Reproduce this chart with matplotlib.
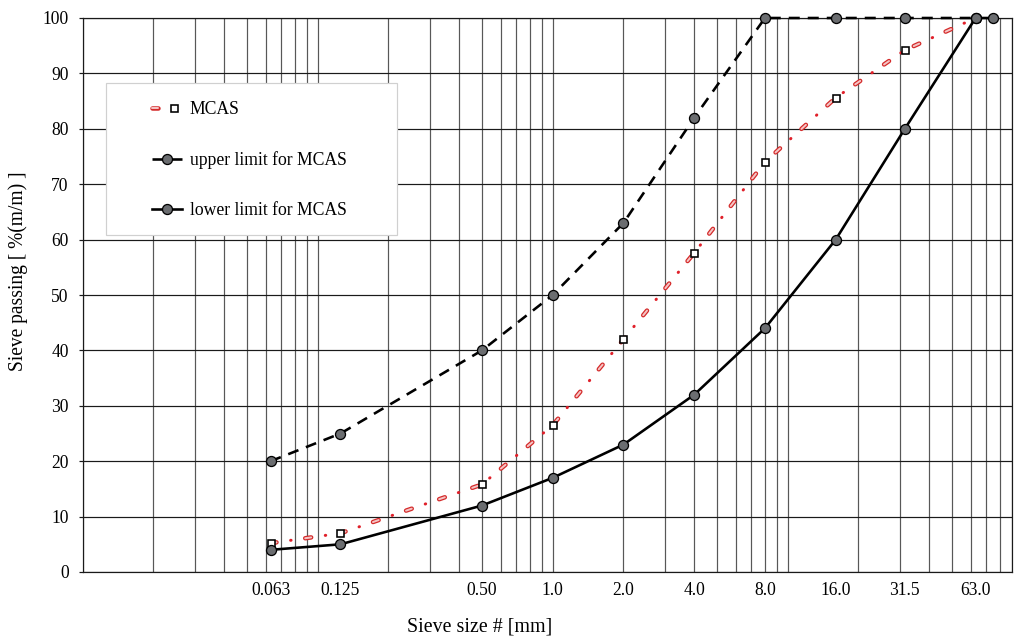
import matplotlib
matplotlib.use('Agg')
import matplotlib.pyplot as plt
import matplotlib.ticker as mticker
import matplotlib.patheffects as pe
from matplotlib.patches import Rectangle
from matplotlib.legend_handler import HandlerTuple

# ---- data ----
sieve_mcas = [0.063, 0.125, 0.5, 1.0, 2.0, 4.0, 8.0, 16.0, 31.5, 63.0]
mcas = [5.2, 7.0, 15.8, 26.5, 42.0, 57.6, 74.0, 85.6, 94.2, 100]
sieve_upper = [0.063, 0.125, 0.5, 1.0, 2.0, 4.0, 8.0, 16.0, 31.5, 63.0, 75.0]
upper = [20, 25, 40, 50, 63, 82, 100, 100, 100, 100, 100]
sieve_lower = [0.063, 0.125, 0.5, 1.0, 2.0, 4.0, 8.0, 16.0, 31.5, 63.0]
lower = [4, 5, 12, 17, 23, 32, 44, 60, 80, 100]
tick_values = [0.063, 0.125, 0.5, 1.0, 2.0, 4.0, 8.0, 16.0, 31.5, 63.0]
tick_labels = ['0.063', '0.125', '0.50', '1.0', '2.0', '4.0', '8.0', '16.0', '31.5', '63.0']
y_ticks = list(range(0, 101, 10))
series_labels = ['MCAS', 'upper limit for MCAS', 'lower limit for MCAS']

plt.rcParams['font.family'] = ['Liberation Serif', 'DejaVu Serif']
plt.rcParams['lines.scale_dashes'] = False

W, H = 1014, 636
fig = plt.figure(figsize=(W / 72, H / 72), dpi=72)
ax = fig.add_axes([82.7 / W, 1 - 572 / H, 929.3 / W, 554 / H])
ax.set_xscale('log')
ax.set_xlim(0.01, 90)
ax.set_ylim(0, 100)

ax.xaxis.set_major_locator(mticker.FixedLocator(tick_values))
ax.xaxis.set_major_formatter(mticker.FixedFormatter(tick_labels))
ax.xaxis.set_minor_locator(mticker.LogLocator(base=10, subs=range(1, 10), numticks=100))
ax.xaxis.set_minor_formatter(mticker.NullFormatter())
ax.xaxis.remove_overlapping_locs = False
ax.set_yticks(y_ticks)

ax.grid(which='minor', axis='x', color='#585858', lw=1.2)
ax.grid(which='major', axis='x', visible=False)
ax.grid(which='major', axis='y', color='#1a1a1a', lw=1.2)
ax.set_axisbelow(True)
ax.tick_params(axis='x', which='both', length=0, pad=10, labelsize=17.5)
ax.tick_params(axis='y', length=4, width=1.2, pad=10, labelsize=17.5, color='#1a1a1a')
for s in ax.spines.values():
    s.set_color('#1a1a1a')
    s.set_linewidth(1.2)

# MCAS: hollow capsule dashes + red dots + square markers
capsule, = ax.plot(sieve_mcas, mcas, color='#d42a2a', lw=4.5,
                   linestyle=(0, [6, 29]), dash_capstyle='round',
                   path_effects=[pe.Stroke(linewidth=4.5, foreground='#d42a2a'),
                                 pe.Stroke(linewidth=2.0, foreground='#f5c4c4')],
                   zorder=3)
dots, = ax.plot(sieve_mcas, mcas, color='#e0202a', lw=3.0,
                linestyle=(14.75, [0.5, 34.5]), dash_capstyle='round',
                marker='s', ms=7, mfc='white', mec='black', mew=1.6, zorder=4)

up_line, = ax.plot(sieve_upper, upper, color='black', lw=2.6,
                   linestyle=(0, [11, 8]), dash_capstyle='butt',
                   marker='o', ms=10, mfc='#6b6d70', mec='black', mew=1.3,
                   zorder=5, clip_on=False)
low_line, = ax.plot(sieve_lower, lower, color='black', lw=2.6,
                    marker='o', ms=10, mfc='#6b6d70', mec='black', mew=1.3,
                    zorder=6, clip_on=False)

# legend box
rect = Rectangle((0.0247, 0.6083), 0.3131, 0.2738, transform=ax.transAxes,
                 facecolor='white', edgecolor='#d0d0d0', lw=1.2, zorder=7)
ax.add_patch(rect)
leg = ax.legend([(capsule, dots), up_line, low_line], series_labels,
                handler_map={tuple: HandlerTuple(ndivide=None)},
                loc='upper left', bbox_to_anchor=(0.0746, 0.850),
                frameon=False, borderpad=0, borderaxespad=0,
                handlelength=1.7, handletextpad=0.45, labelspacing=1.88,
                fontsize=17.6)
leg.set_zorder(8)

ax.set_xlabel('Sieve size # [mm]', fontsize=20)
ax.xaxis.set_label_coords(0.427, -0.083)
ax.set_ylabel('Sieve passing [ %(m/m) ]', fontsize=19.5)
ax.yaxis.set_label_coords(-0.0589, 0.5433)

fig.savefig('out.png', dpi=72)
